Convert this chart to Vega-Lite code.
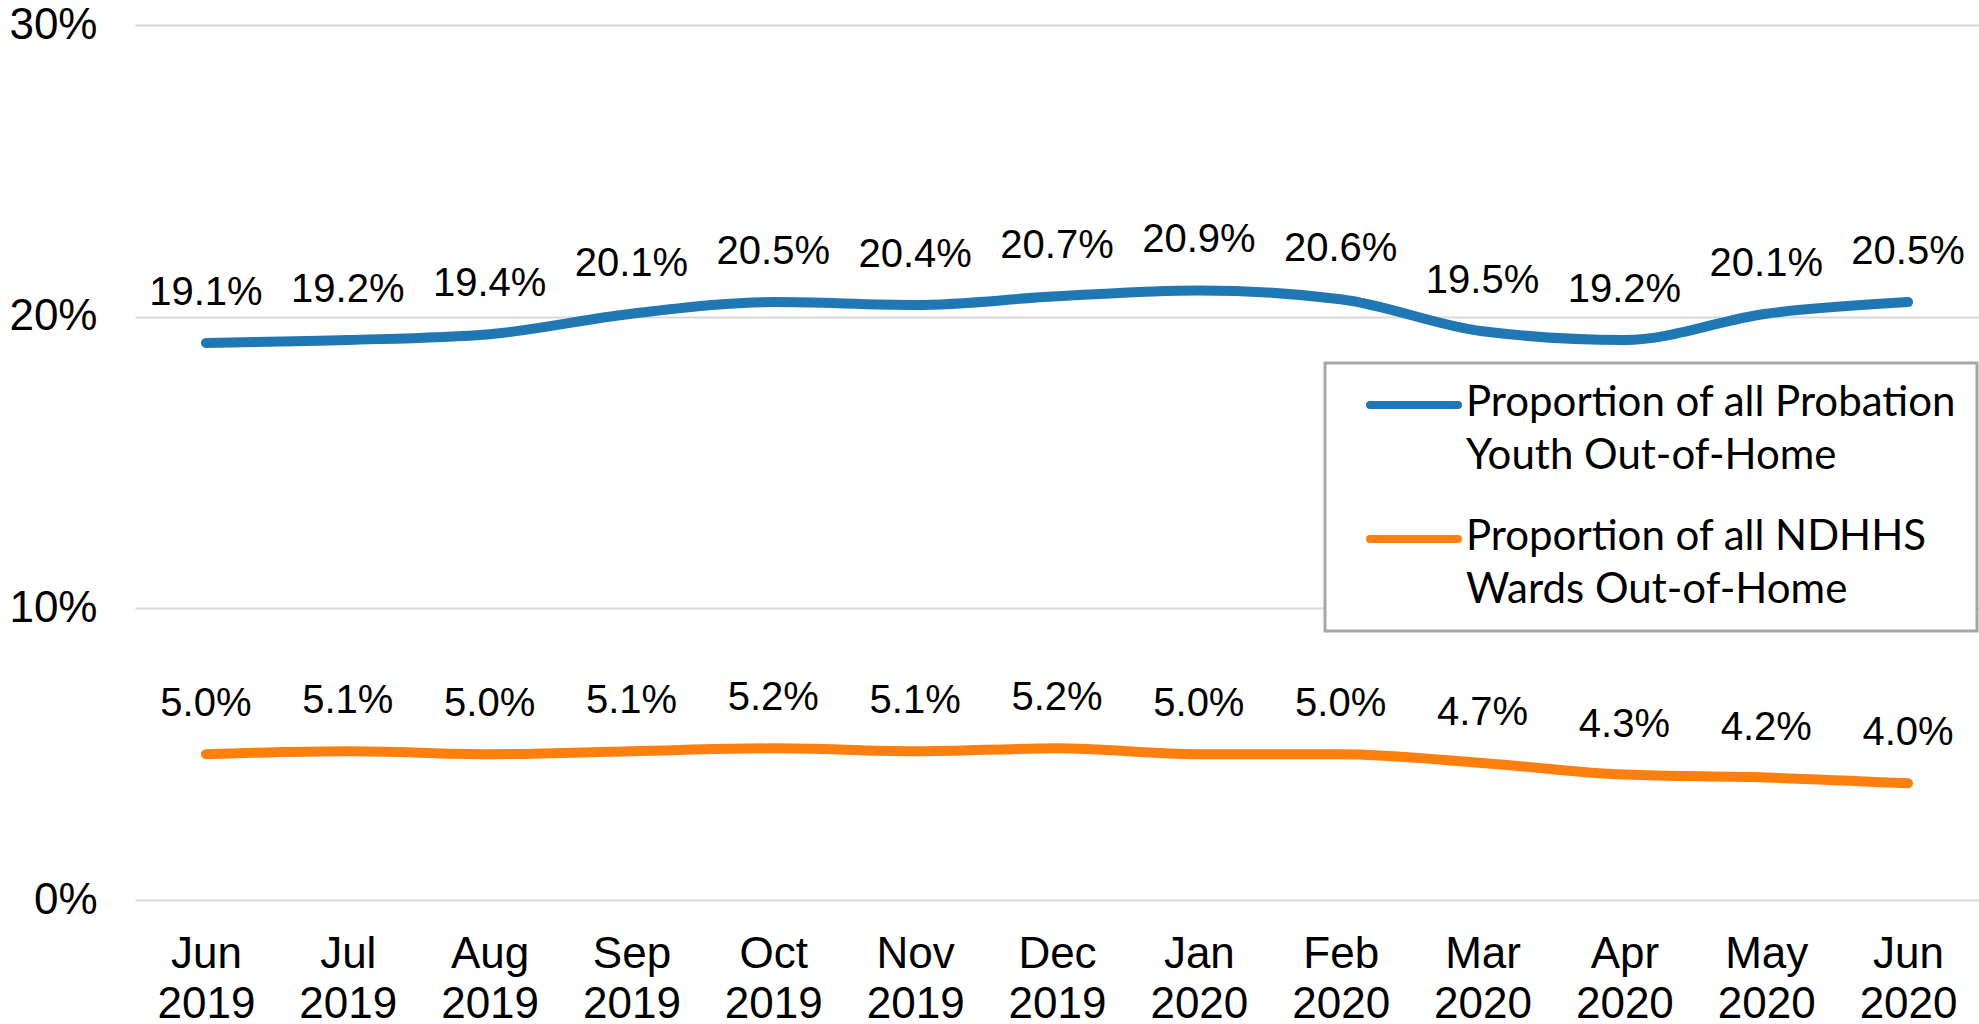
{
  "$schema": "https://vega.github.io/schema/vega-lite/v6.json",
  "width": 1844,
  "height": 875,
  "autosize": {"type": "none"},
  "padding": {"left": 135, "top": 25, "right": 0, "bottom": 124},
  "background": "white",
  "config": {"view": {"stroke": null}, "font": "Liberation Sans"},
  "data": {
    "values": [
      {"month": "Jun 2019", "series": "Proportion of all Probation Youth Out-of-Home", "value": 0.191},
      {"month": "Jul 2019", "series": "Proportion of all Probation Youth Out-of-Home", "value": 0.192},
      {"month": "Aug 2019", "series": "Proportion of all Probation Youth Out-of-Home", "value": 0.194},
      {"month": "Sep 2019", "series": "Proportion of all Probation Youth Out-of-Home", "value": 0.201},
      {"month": "Oct 2019", "series": "Proportion of all Probation Youth Out-of-Home", "value": 0.205},
      {"month": "Nov 2019", "series": "Proportion of all Probation Youth Out-of-Home", "value": 0.204},
      {"month": "Dec 2019", "series": "Proportion of all Probation Youth Out-of-Home", "value": 0.207},
      {"month": "Jan 2020", "series": "Proportion of all Probation Youth Out-of-Home", "value": 0.209},
      {"month": "Feb 2020", "series": "Proportion of all Probation Youth Out-of-Home", "value": 0.206},
      {"month": "Mar 2020", "series": "Proportion of all Probation Youth Out-of-Home", "value": 0.195},
      {"month": "Apr 2020", "series": "Proportion of all Probation Youth Out-of-Home", "value": 0.192},
      {"month": "May 2020", "series": "Proportion of all Probation Youth Out-of-Home", "value": 0.201},
      {"month": "Jun 2020", "series": "Proportion of all Probation Youth Out-of-Home", "value": 0.205},
      {"month": "Jun 2019", "series": "Proportion of all NDHHS Wards Out-of-Home", "value": 0.050},
      {"month": "Jul 2019", "series": "Proportion of all NDHHS Wards Out-of-Home", "value": 0.051},
      {"month": "Aug 2019", "series": "Proportion of all NDHHS Wards Out-of-Home", "value": 0.050},
      {"month": "Sep 2019", "series": "Proportion of all NDHHS Wards Out-of-Home", "value": 0.051},
      {"month": "Oct 2019", "series": "Proportion of all NDHHS Wards Out-of-Home", "value": 0.052},
      {"month": "Nov 2019", "series": "Proportion of all NDHHS Wards Out-of-Home", "value": 0.051},
      {"month": "Dec 2019", "series": "Proportion of all NDHHS Wards Out-of-Home", "value": 0.052},
      {"month": "Jan 2020", "series": "Proportion of all NDHHS Wards Out-of-Home", "value": 0.050},
      {"month": "Feb 2020", "series": "Proportion of all NDHHS Wards Out-of-Home", "value": 0.050},
      {"month": "Mar 2020", "series": "Proportion of all NDHHS Wards Out-of-Home", "value": 0.047},
      {"month": "Apr 2020", "series": "Proportion of all NDHHS Wards Out-of-Home", "value": 0.043},
      {"month": "May 2020", "series": "Proportion of all NDHHS Wards Out-of-Home", "value": 0.042},
      {"month": "Jun 2020", "series": "Proportion of all NDHHS Wards Out-of-Home", "value": 0.040}
    ]
  },
  "encoding": {
    "x": {
      "field": "month",
      "type": "ordinal",
      "sort": null,
      "scale": {"type": "point", "padding": 0.5},
      "axis": {
        "title": null,
        "labelAngle": 0,
        "labelExpr": "split(datum.label, ' ')",
        "labelFont": "Liberation Sans",
        "labelFontSize": 44,
        "labelLineHeight": 50,
        "labelBaseline": "top",
        "labelPadding": 32,
        "labelColor": "#000000",
        "domain": false,
        "ticks": false,
        "grid": false
      }
    },
    "y": {
      "field": "value",
      "type": "quantitative",
      "scale": {"domain": [0, 0.3]},
      "axis": {
        "title": null,
        "values": [0, 0.1, 0.2, 0.3],
        "format": ".0%",
        "labelFont": "Liberation Sans",
        "labelFontSize": 44,
        "labelPadding": 38,
        "labelColor": "#000000",
        "domain": false,
        "ticks": false,
        "grid": true,
        "gridColor": "#d9d9d9",
        "gridWidth": 2
      }
    },
    "color": {
      "field": "series",
      "type": "nominal",
      "scale": {
        "domain": ["Proportion of all Probation Youth Out-of-Home", "Proportion of all NDHHS Wards Out-of-Home"],
        "range": ["#1f77b4", "#ff7f0e"]
      },
      "legend": {
        "orient": "none",
        "legendX": 1190,
        "legendY": 338,
        "direction": "vertical",
        "title": null,
        "symbolType": "stroke",
        "symbolSize": 7744,
        "symbolStrokeWidth": 8,
        "symbolOffset": 21,
        "labelFont": "Lato",
        "labelFontSize": 42,
        "labelBaseline": "top",
        "labelColor": "#000000",
        "labelLimit": 0,
        "labelOffset": 4,
        "labelExpr": "datum.label == 'Proportion of all Probation Youth Out-of-Home' ? ['Proportion of all Probation\u00a0\u00a0\u00a0\u00a0', 'Youth Out-of-Home'] : ['Proportion of all NDHHS', 'Wards Out-of-Home']",
        "rowPadding": 39,
        "padding": 20,
        "strokeColor": "#a6a6a6",
        "fillColor": "white",
        "encode": {
          "legend": {"update": {"strokeWidth": {"value": 3}}},
          "labels": {"update": {"y": {"value": 0}, "lineHeight": {"value": 53}}},
          "symbols": {"update": {"y": {"value": 22}, "strokeCap": {"value": "round"}}}
        }
      }
    }
  },
  "layer": [
    {"mark": {"type": "line", "strokeWidth": 10, "interpolate": "monotone", "strokeCap": "round", "strokeJoin": "round"}},
    {
      "mark": {"type": "text", "baseline": "alphabetic", "dy": -38, "fontSize": 40, "font": "Liberation Sans"},
      "encoding": {
        "text": {"field": "value", "type": "quantitative", "format": ".1%"},
        "color": {"value": "#000000"}
      }
    }
  ]
}
